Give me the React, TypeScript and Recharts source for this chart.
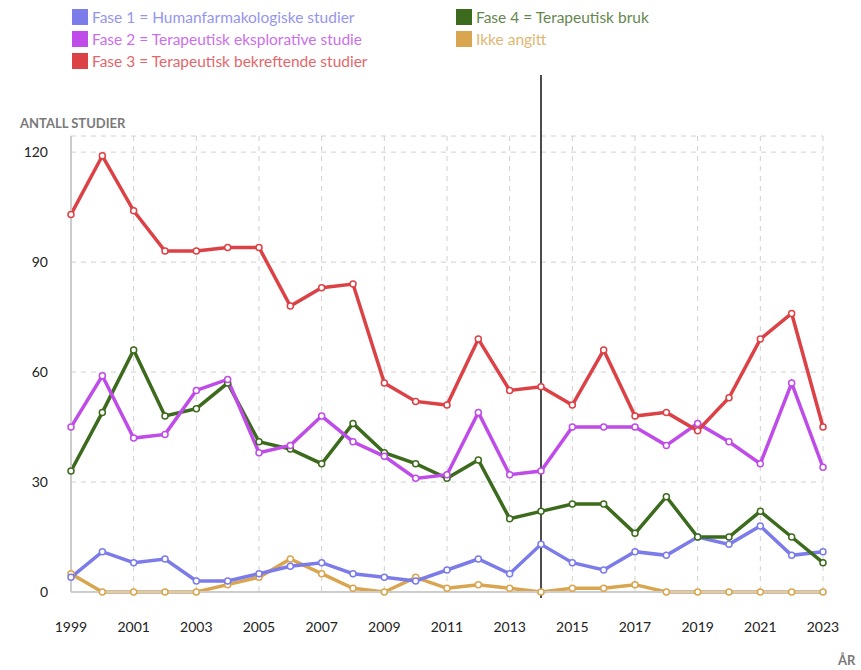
import { LineChart, Line, XAxis, YAxis, CartesianGrid, ReferenceLine } from 'recharts';

const years = [
  1999, 2000, 2001, 2002, 2003, 2004, 2005, 2006, 2007, 2008, 2009, 2010, 2011,
  2012, 2013, 2014, 2015, 2016, 2017, 2018, 2019, 2020, 2021, 2022, 2023,
];

const fase1 = [4, 11, 8, 9, 3, 3, 5, 7, 8, 5, 4, 3, 6, 9, 5, 13, 8, 6, 11, 10, 15, 13, 18, 10, 11];
const fase2 = [45, 59, 42, 43, 55, 58, 38, 40, 48, 41, 37, 31, 32, 49, 32, 33, 45, 45, 45, 40, 46, 41, 35, 57, 34];
const fase3 = [103, 119, 104, 93, 93, 94, 94, 78, 83, 84, 57, 52, 51, 69, 55, 56, 51, 66, 48, 49, 44, 53, 69, 76, 45];
const fase4 = [33, 49, 66, 48, 50, 57, 41, 39, 35, 46, 38, 35, 31, 36, 20, 22, 24, 24, 16, 26, 15, 15, 22, 15, 8];
const ikkeAngitt = [5, 0, 0, 0, 0, 2, 4, 9, 5, 1, 0, 4, 1, 2, 1, 0, 1, 1, 2, 0, 0, 0, 0, 0, 0];

const xTicks = [1999, 2001, 2003, 2005, 2007, 2009, 2011, 2013, 2015, 2017, 2019, 2021, 2023];
const yTicks = [0, 30, 60, 90, 120];
const markerYear = 2014;

const series = [
  { key: 'fase1', label: 'Fase 1 = Humanfarmakologiske studier', color: '#7b7bea', values: fase1 },
  { key: 'fase2', label: 'Fase 2 = Terapeutisk eksplorative studie', color: '#bf4be8', values: fase2 },
  { key: 'fase3', label: 'Fase 3 = Terapeutisk bekreftende studier', color: '#dc4146', values: fase3 },
  { key: 'fase4', label: 'Fase 4 = Terapeutisk bruk', color: '#3d6b1d', values: fase4 },
  { key: 'ikke', label: 'Ikke angitt', color: '#d9a54e', values: ikkeAngitt },
];

const chartData = years.map((year, i) => {
  const row: any = { year };
  series.forEach((s) => {
    row[s.key] = s.values[i];
  });
  return row;
});

// draw order: bottom series first so red sits on top
const drawOrder = ['ikke', 'fase1', 'fase4', 'fase2', 'fase3'];

const font = 'Lato, "Noto Sans", sans-serif';

const legendPos: Record<string, { left: number; top: number }> = {
  fase1: { left: 72, top: 8 },
  fase2: { left: 72, top: 30 },
  fase3: { left: 72, top: 52 },
  fase4: { left: 456, top: 8 },
  ikke: { left: 456, top: 30 },
};

const MarkerLine = (props: any) => {
  const top = Math.min(props.y1, props.y2);
  const bottom = Math.max(props.y1, props.y2);
  return <line x1={props.x1} x2={props.x2} y1={top - 61} y2={bottom + 6} stroke="#111" strokeWidth={1.5} />;
};

export default function App() {
  return (
    <div style={{ position: 'absolute', left: 0, top: 0, width: 861, height: 670, background: '#fff', fontFamily: font }}>
      {series.map((s) => (
        <div
          key={s.key}
          style={{
            position: 'absolute',
            left: legendPos[s.key].left,
            top: legendPos[s.key].top,
            display: 'flex',
            alignItems: 'center',
            fontSize: 15.5,
            color: s.color,
            whiteSpace: 'nowrap',
          }}
        >
          <span style={{ width: 16, height: 16, background: s.color, display: 'inline-block', marginRight: 4 }} />
          <span style={{ opacity: 0.8 }}>{s.label}</span>
        </div>
      ))}
      <div style={{ position: 'absolute', left: 20, top: 115, fontSize: 13, fontWeight: 700, color: '#7a7a7a' }}>
        ANTALL STUDIER
      </div>
      <div style={{ position: 'absolute', left: 838, top: 652, fontSize: 13, fontWeight: 700, color: '#7a7a7a' }}>
        ÅR
      </div>
      <LineChart width={861} height={670} data={chartData} margin={{ top: 136, right: 38, bottom: 48, left: 21 }}>
        <CartesianGrid stroke="#d0d0d0" strokeDasharray="5 5" />
        <XAxis
          dataKey="year"
          type="number"
          domain={[1999, 2023]}
          ticks={xTicks}
          tickLine={false}
          tickSize={0}
          tickMargin={30}
          axisLine={{ stroke: '#cccccc', strokeWidth: 2 }}
          tick={{ fontSize: 14, fill: '#222', fontFamily: font }}
        />
        <YAxis
          type="number"
          domain={[0, 124.4]}
          ticks={yTicks}
          width={50}
          tickLine={false}
          tickSize={0}
          tickMargin={23}
          axisLine={{ stroke: '#cccccc', strokeWidth: 2 }}
          tick={{ fontSize: 14, fill: '#222', fontFamily: font }}
        />
        <ReferenceLine x={markerYear} shape={<MarkerLine />} />
        {drawOrder.map((key) => {
          const s = series.find((x) => x.key === key)!;
          return (
            <Line
              key={key}
              dataKey={key}
              type="linear"
              stroke={s.color}
              strokeWidth={3.5}
              dot={{ r: 3, fill: '#fff', stroke: s.color, strokeWidth: 1.5 }}
              isAnimationActive={false}
            />
          );
        })}
      </LineChart>
    </div>
  );
}
